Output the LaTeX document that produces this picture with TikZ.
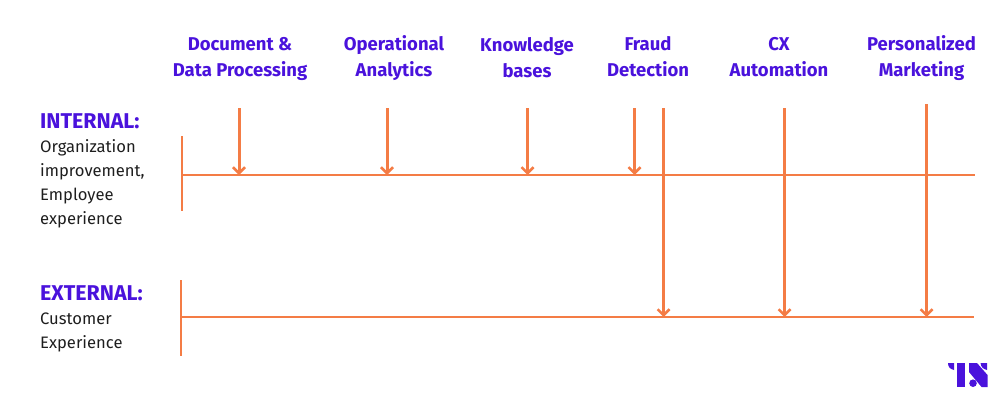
\documentclass[tikz,border=0pt]{standalone}
\usepackage{fontspec}
\setmainfont{Fira Sans}
\usetikzlibrary{arrows.meta}
\definecolor{tsorange}{HTML}{F47C45}
\definecolor{tspurple}{HTML}{4A12DC}
\definecolor{tstext}{HTML}{1E1E1E}

\begin{document}
\begin{tikzpicture}[x=1pt, y=-1pt, line cap=butt,
  head/.style = {font=\fontsize{18.5}{26}\selectfont\bfseries, text=tspurple, align=center, inner sep=0pt},
  side/.style = {font=\fontsize{21.4}{24}\selectfont\bfseries, text=tspurple, anchor=west, inner sep=0pt},
  body/.style = {font=\fontsize{16.6}{24}\selectfont, text=tstext, anchor=north west, align=left, inner sep=0pt},
  axis/.style = {draw=tsorange, line width=2pt},
  drop/.style = {draw=tsorange, line width=3pt, -{Straight Barb[length=6pt, width=12pt, line width=2.5pt]}}]
\useasboundingbox (0,0) rectangle (1000,400);
\node[head] (doc) at (240,59) {Document \&\\Data Processing};
\node[head] (ops) at (394,58) {Operational\\Analytics};
\node[head] (know) at (527,58) {Knowledge\\bases};
\node[head] (fraud) at (648,57) {Fraud\\Detection};
\node[head] (cx) at (779,57) {CX\\Automation};
\node[head] (mkt) at (921.5,58) {Personalized\\Marketing};
\node[side] (internal) at (40,121) {INTERNAL:};
\node[body] (internaltxt) at (40,139) {Organization\\improvement,\\Employee\\experience};
\node[side] (external) at (40,293) {EXTERNAL:};
\node[body] (externaltxt) at (40,313) {Customer\\Experience};
% axes
\coordinate (i0) at (182,175); \coordinate (i1) at (975,175);
\coordinate (it) at (182,136); \coordinate (ib) at (182,211);
\coordinate (e0) at (181,317); \coordinate (e1) at (974,317);
\coordinate (et) at (181,280); \coordinate (eb) at (181,356);
\draw[axis] (i0) -- (i1);
\draw[axis] (it) -- (ib);
\draw[axis] (e0) -- (e1);
\draw[axis] (et) -- (eb);
% arrows
\coordinate (a1) at (239,108); \coordinate (a2) at (387,108);
\coordinate (a3) at (527.5,108); \coordinate (a4) at (634.5,108);
\coordinate (a5) at (663.5,108); \coordinate (a6) at (784.5,108);
\coordinate (a7) at (926.5,104);
\draw[drop] (a1) -- (a1 |- i0);
\draw[drop] (a2) -- (a2 |- i0);
\draw[drop] (a3) -- (a3 |- i0);
\draw[drop] (a4) -- (a4 |- i0);
\draw[drop] (a5) -- (a5 |- e0);
\draw[drop] (a6) -- (a6 |- e0);
\draw[drop] (a7) -- (a7 |- e0);
% logo
\fill[tspurple] (948,363) -- (954,363) -- (954,370) .. controls (950,369) and (948,367) .. (948,363) -- cycle;
\fill[tspurple] (957.3,363) rectangle (965,387);
\fill[tspurple] (969,363) -- (977,363) -- (987.5,375) -- (987.5,387) -- (981.5,387) -- (969,372) -- cycle;
\fill[tspurple] (980.5,363) -- (987,363) -- (987,370) .. controls (983,369) and (981,367) .. (980.5,363) -- cycle;
\fill[tspurple] (973,383.2) circle (3.8);
\end{tikzpicture}
\end{document}
